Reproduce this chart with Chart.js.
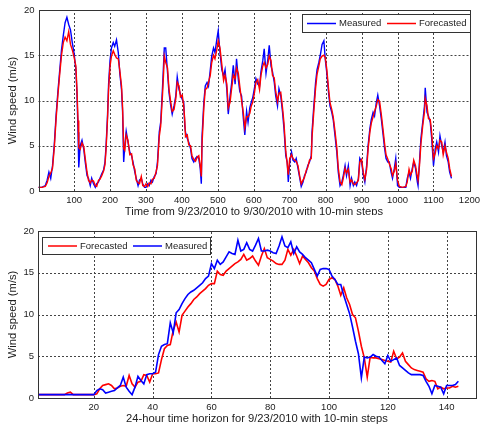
<!DOCTYPE html>
<html>
<head>
<meta charset="utf-8">
<script src="https://cdn.jsdelivr.net/npm/chart.js@4"></script>
<style>
  html, body { margin: 0; padding: 0; background: #fff; }
  #wrap { position: relative; width: 484px; height: 433px; }
  #topBox { position: absolute; left: 0; top: 0; width: 484px; height: 215px; }
  #bottomBox { position: absolute; left: 0; top: 215px; width: 484px; height: 218px; }
</style>
</head>
<body>
<div id="wrap">
  <div id="topBox"><canvas id="topChart" width="484" height="215"></canvas></div>
  <div id="bottomBox"><canvas id="bottomChart" width="484" height="218"></canvas></div>
</div>
<script>
// Top panel: week of data, 10-min steps (sampled)
const topSteps = [0,10,20,25,30,35,40,45,50,55,60,65,70,75,80,85,90,95,100,105,108,111,113,117,122,127,131,136,140,145,149,154,159,163,168,172,177,182,186,189,193,196,200,204,209,213,218,223,227,232,235,238,241,245,250,255,260,264,269,273,278,282,287,291,296,300,305,309,314,318,323,328,332,337,341,346,349,351,355,360,364,369,373,378,383,387,392,396,401,405,408,410,415,419,424,428,433,438,442,447,451,454,456,461,465,470,474,479,483,488,492,497,501,506,511,516,520,525,529,534,538,543,548,552,557,561,566,571,575,580,584,589,593,597,602,606,611,616,620,625,629,634,639,643,648,652,657,661,666,670,675,680,684,689,693,696,700,705,709,714,718,723,728,732,737,741,746,750,755,760,762,767,772,776,781,785,790,795,799,803,808,812,817,821,826,831,835,840,845,849,854,858,863,868,872,877,881,886,891,895,900,905,909,914,918,923,927,932,936,941,945,950,955,959,964,968,973,977,982,986,991,995,1000,1005,1014,1023,1027,1032,1036,1041,1045,1050,1055,1057,1061,1065,1070,1075,1077,1082,1086,1091,1095,1100,1105,1109,1114,1118,1123,1127,1132,1136,1141,1145,1150];
const topMeasured = [0.4,0.4,0.6,1.2,2.1,1.4,2.8,5.2,8.4,11.0,13.3,15.6,17.2,18.6,19.2,18.4,17.8,16.4,15.2,13.4,10.8,6.5,2.6,5.0,5.6,4.6,3.2,1.7,1.4,0.6,1.4,0.8,0.4,0.8,1.0,1.4,1.9,2.3,3.2,5.0,8.3,11.8,14.4,15.8,16.4,16.0,16.7,15.3,13.1,11.2,8.7,3.2,5.0,6.6,5.4,4.3,3.9,3.2,2.1,1.4,0.6,1.2,1.4,0.8,0.4,0.4,0.8,0.6,1.2,1.0,1.6,1.9,3.2,6.5,7.6,11.4,14.0,15.8,15.8,13.1,10.9,9.4,8.5,9.4,10.5,12.6,11.2,10.7,10.1,9.8,7.2,6.5,5.8,5.4,4.7,3.6,3.2,3.6,3.8,3.6,2.5,0.8,6.0,9.8,11.6,12.0,11.6,13.4,14.9,15.8,15.3,16.7,17.7,15.3,13.4,12.7,13.4,11.2,8.5,10.5,11.8,13.9,11.8,14.6,12.3,11.0,10.5,8.0,6.2,8.8,7.6,9.2,9.8,10.3,11.4,12.4,11.8,11.6,13.2,14.4,15.7,13.0,14.5,16.1,13.8,13.2,12.0,10.5,9.4,11.3,10.5,8.7,6.9,3.9,3.2,1.0,3.2,4.3,3.4,3.2,3.6,2.5,1.4,0.5,1.0,1.7,2.1,2.8,3.2,3.9,6.5,9.4,12.0,13.4,14.2,15.0,16.2,16.6,14.5,13.1,10.9,9.4,8.7,7.9,6.1,4.3,2.1,0.6,1.0,1.7,2.8,1.7,2.8,0.6,1.4,0.6,1.0,0.6,1.4,3.6,3.2,1.7,1.0,2.8,5.0,6.9,7.9,8.7,8.3,9.8,10.6,9.4,7.9,6.5,4.7,3.6,3.2,3.2,2.1,1.4,2.5,3.6,0.6,0.4,0.4,0.4,1.4,2.1,1.4,2.5,3.2,2.5,1.0,0.6,3.2,5.8,7.6,9.4,11.4,8.7,8.3,7.6,5.8,2.8,4.7,5.4,4.3,6.1,5.0,4.3,5.4,3.9,3.2,2.1,1.4];
const topForecast = [0.4,0.4,0.5,0.9,1.6,2.0,2.5,4.8,8.0,10.6,12.9,15.0,16.4,17.0,16.6,17.6,16.2,15.6,14.8,13.8,11.2,7.8,4.8,4.6,5.3,4.9,3.6,2.1,1.2,0.9,1.2,1.1,0.6,0.5,1.2,1.3,1.7,2.2,2.9,4.6,7.9,11.2,13.8,14.9,15.5,15.1,14.7,14.6,13.4,11.6,9.2,4.7,4.5,6.2,5.6,4.0,4.1,2.9,2.4,1.2,0.9,0.8,1.6,0.6,0.5,0.8,0.5,0.9,0.8,1.3,1.4,2.1,2.8,6.0,7.2,10.6,13.0,14.9,14.2,13.6,11.3,9.8,8.8,9.0,10.2,12.0,11.6,10.4,10.6,9.4,7.8,6.0,6.2,5.1,5.0,3.9,3.5,3.3,3.7,3.9,2.8,1.6,5.2,9.2,11.2,11.4,12.0,12.8,14.2,15.0,14.6,15.6,16.6,15.8,14.0,12.2,12.8,11.8,9.2,9.8,11.2,12.8,12.4,13.6,13.0,11.6,10.0,8.6,7.0,8.2,8.2,8.6,9.4,9.8,10.9,12.0,12.3,11.2,12.8,13.8,14.2,13.6,14.0,14.9,14.4,12.8,12.5,11.0,9.9,10.8,10.9,9.2,7.5,4.4,3.0,1.8,3.6,4.0,3.6,3.4,3.3,2.8,1.6,0.8,1.2,1.5,2.3,2.6,3.4,3.6,5.9,8.8,11.4,12.9,13.8,14.6,14.9,15.0,14.7,13.5,11.3,9.8,9.0,8.2,6.6,4.8,2.6,1.0,0.7,1.4,2.5,2.0,2.4,1.0,1.2,0.8,0.7,0.9,1.2,3.2,3.5,2.0,1.3,2.4,4.6,6.5,7.5,8.2,8.8,9.4,10.1,9.9,8.4,7.0,5.2,4.0,3.5,3.0,2.5,1.7,2.2,3.0,1.2,0.5,0.4,0.5,1.0,2.4,1.8,2.2,3.4,2.8,1.6,1.2,2.8,5.2,7.2,8.8,10.2,9.4,8.0,7.9,6.4,3.6,4.2,5.0,4.7,5.6,5.4,4.0,5.0,4.3,3.6,2.5,1.6];

// Bottom panel: 24 hours of 9/23/2010, steps 1..144
const bottomMeasured = [0.4,0.4,0.4,0.4,0.4,0.4,0.4,0.4,0.4,0.4,0.4,0.4,0.4,0.4,0.4,0.4,0.4,0.4,0.4,0.4,
  0.9,1.1,1.0,0.6,0.7,0.8,0.9,1.2,1.5,2.5,
  1.3,0.8,0.4,1.3,2.6,2.1,1.7,2.8,2.9,2.9,
  3.1,5.2,6.2,6.4,6.5,9.0,7.8,10.2,10.6,11.3,
  11.9,12.4,12.7,12.9,13.2,13.5,13.8,14.3,14.6,16.1,
  15.5,16.5,16.0,16.3,16.9,17.5,17.3,17.2,18.9,17.6,
  17.8,18.6,17.8,17.6,18.3,19.1,17.6,17.6,17.7,17.6,
  17.4,17.3,18.2,19.3,18.2,18.0,18.7,17.3,18.1,17.5,
  17.2,16.8,16.5,16.2,15.4,14.6,15.4,15.5,15.5,15.4,
  14.6,14.2,13.6,13.6,12.3,11.2,10.1,8.5,6.8,5.3,
  2.4,4.9,4.8,4.9,5.2,5.0,4.9,4.5,4.1,5.1,
  4.4,4.6,4.8,3.9,3.6,3.3,3.0,2.8,2.8,2.8,
  2.8,2.7,2.0,1.4,0.5,1.5,1.4,1.3,0.5,1.5,
  1.5,1.5,1.6,2.0];
const bottomForecast = [0.4,0.4,0.4,0.4,0.4,0.4,0.4,0.4,0.4,0.4,
  0.6,0.7,0.4,0.4,0.4,0.4,0.4,0.4,0.4,0.4,
  0.5,1.1,1.5,1.6,1.7,1.5,1.1,1.2,1.4,1.5,
  1.4,2.7,1.7,1.3,1.9,2.0,2.8,2.7,1.9,2.9,
  2.9,3.0,4.6,5.9,6.3,6.4,8.1,9.1,7.9,9.9,
  10.4,10.9,11.3,11.8,12.1,12.5,12.8,13.1,13.5,13.7,
  13.7,15.2,14.8,14.7,15.2,15.5,15.8,16.1,16.3,16.6,
  17.2,16.5,16.7,17.0,16.4,15.9,17.0,17.9,16.8,16.6,
  16.4,16.1,16.0,16.0,16.5,17.8,17.1,17.8,17.0,16.1,
  17.0,16.6,16.2,15.6,15.2,14.3,13.6,13.4,13.6,14.2,
  14.4,14.2,13.4,12.3,13.2,12.0,11.2,10.0,9.6,8.0,
  6.2,4.8,2.5,4.9,4.8,4.8,4.7,4.6,4.5,4.4,
  4.3,5.6,4.7,4.9,5.4,4.4,4.0,3.6,3.4,3.3,
  3.2,3.1,2.3,2.0,2.1,2.0,1.1,1.3,1.1,1.2,
  1.2,1.4,1.3,1.4];

const topXTicks = [100,200,300,400,500,600,700,800,900,1000,1100,1200];
const bottomXTicks = [20,40,60,80,100,120,140];
const yTicks = [0,5,10,15,20];

const FONT = 'Liberation Sans, Arial, sans-serif';
const BLUE = '#0000ff';
const RED = '#ff0000';

function toXY(xs, ys) {
    return ys.map((v, i) => ({ x: xs[i], y: v }));
}

// dotted matlab-style grid, drawn under the lines
const dottedGrid = {
    id: 'dottedGrid',
    beforeDatasetsDraw(chart) {
        const ctx = chart.ctx;
        const a = chart.chartArea;
        const sx = chart.scales.x, sy = chart.scales.y;
        ctx.save();
        ctx.strokeStyle = '#444';
        ctx.lineWidth = 1;
        ctx.setLineDash([2, 2]);
        sx.ticks.forEach(t => {
            const px = Math.round(sx.getPixelForValue(t.value)) + 0.5;
            if (px < a.left + 1 || px > a.right - 1) return;
            ctx.beginPath();
            ctx.moveTo(px, a.bottom);
            ctx.lineTo(px, a.top);
            ctx.stroke();
        });
        sy.ticks.forEach(t => {
            const py = Math.round(sy.getPixelForValue(t.value)) + 0.5;
            if (py < a.top + 1 || py > a.bottom - 1) return;
            ctx.beginPath();
            ctx.moveTo(a.left, py);
            ctx.lineTo(a.right, py);
            ctx.stroke();
        });
        ctx.restore();
    }
};

// frame, axis titles and in-plot legend
function framePlugin(xTitle, legendItems, legendBox) {
    return {
        id: 'frame',
        afterDraw(chart) {
            const ctx = chart.ctx;
            const a = chart.chartArea;
            ctx.save();
            ctx.strokeStyle = '#333';
            ctx.lineWidth = 1;
            ctx.setLineDash([]);
            ctx.strokeRect(Math.round(a.left) + 0.5, Math.round(a.top) + 0.5,
                Math.round(a.right - a.left), Math.round(a.bottom - a.top));

            ctx.fillStyle = '#222';
            ctx.font = '11.2px ' + FONT;
            ctx.textAlign = 'center';
            ctx.textBaseline = 'middle';
            ctx.fillText(xTitle, (a.left + a.right) / 2, a.bottom + 21);

            ctx.save();
            ctx.translate(13, (a.top + a.bottom) / 2);
            ctx.rotate(-Math.PI / 2);
            ctx.fillText('Wind speed (m/s)', 0, 0);
            ctx.restore();

            // legend
            const b = legendBox;
            ctx.fillStyle = '#fff';
            ctx.fillRect(b.x, b.y, b.w, b.h);
            ctx.strokeStyle = '#333';
            ctx.strokeRect(b.x + 0.5, b.y + 0.5, b.w, b.h);
            ctx.font = '9.5px ' + FONT;
            ctx.textAlign = 'left';
            const cy = b.y + b.h / 2 + 0.5;
            legendItems.forEach(it => {
                ctx.strokeStyle = it.color;
                ctx.lineWidth = 1.5;
                ctx.beginPath();
                ctx.moveTo(it.x, cy);
                ctx.lineTo(it.x + 29, cy);
                ctx.stroke();
                ctx.fillStyle = '#222';
                ctx.fillText(it.label, it.x + 32, cy);
            });
            ctx.restore();
        }
    };
}

function scalesFor(xMin, xMax, xTicks, yWidth, xHeight) {
    const tickFont = { family: FONT, size: 9.5 };
    return {
        x: {
            type: 'linear',
            min: xMin,
            max: xMax,
            afterBuildTicks: s => { s.ticks = xTicks.map(v => ({ value: v })); },
            afterFit: s => { s.height = xHeight; },
            grid: { display: false, drawTicks: false },
            border: { display: false },
            ticks: { color: '#222', font: tickFont, padding: 4, maxRotation: 0, callback: v => String(v) }
        },
        y: {
            min: 0,
            max: 20,
            afterBuildTicks: s => { s.ticks = yTicks.map(v => ({ value: v })); },
            afterFit: s => { s.width = yWidth; },
            grid: { display: false, drawTicks: false },
            border: { display: false },
            ticks: { color: '#222', font: tickFont, padding: 4, callback: v => String(v) }
        }
    };
}

document.addEventListener('DOMContentLoaded', function() {

    // Week overview chart
    new Chart(document.getElementById('topChart').getContext('2d'), {
        type: 'line',
        data: {
            datasets: [
                {
                    label: 'Measured',
                    data: toXY(topSteps, topMeasured),
                    borderColor: BLUE,
                    borderWidth: 1.4,
                    pointRadius: 0,
                    tension: 0,
                    order: 1
                },
                {
                    label: 'Forecasted',
                    data: toXY(topSteps, topForecast),
                    borderColor: RED,
                    borderWidth: 1.4,
                    pointRadius: 0,
                    tension: 0,
                    order: 0
                }
            ]
        },
        options: {
            responsive: false,
            animation: false,
            layout: { padding: { top: 10, right: 8, left: 0, bottom: 0 } },
            scales: scalesFor(1, 1200, topXTicks, 38.5, 24),
            plugins: { legend: { display: false }, tooltip: { enabled: false } }
        },
        plugins: [dottedGrid, framePlugin('Time from 9/23/2010 to 9/30/2010 with 10-min steps',
            [{ label: 'Measured', color: BLUE, x: 307 }, { label: 'Forecasted', color: RED, x: 387 }],
            { x: 302, y: 14, w: 168, h: 18 })]
    });

    // 24-hour horizon chart
    const steps = bottomMeasured.map((v, i) => i + 1);
    new Chart(document.getElementById('bottomChart').getContext('2d'), {
        type: 'line',
        data: {
            datasets: [
                {
                    label: 'Forecasted',
                    data: toXY(steps, bottomForecast),
                    borderColor: RED,
                    borderWidth: 1.6,
                    pointRadius: 0,
                    tension: 0,
                    order: 1
                },
                {
                    label: 'Measured',
                    data: toXY(steps, bottomMeasured),
                    borderColor: BLUE,
                    borderWidth: 1.6,
                    pointRadius: 0,
                    tension: 0,
                    order: 0
                }
            ]
        },
        options: {
            responsive: false,
            animation: false,
            layout: { padding: { top: 16, right: 8, left: 0, bottom: 0 } },
            scales: scalesFor(1, 150, bottomXTicks, 38, 35),
            plugins: { legend: { display: false }, tooltip: { enabled: false } }
        },
        plugins: [dottedGrid, framePlugin('24-hour time horizon for 9/23/2010 with 10-min steps',
            [{ label: 'Forecasted', color: RED, x: 48 }, { label: 'Measured', color: BLUE, x: 133 }],
            { x: 42, y: 22, w: 168, h: 17 })]
    });
});
</script>
</body>
</html>
